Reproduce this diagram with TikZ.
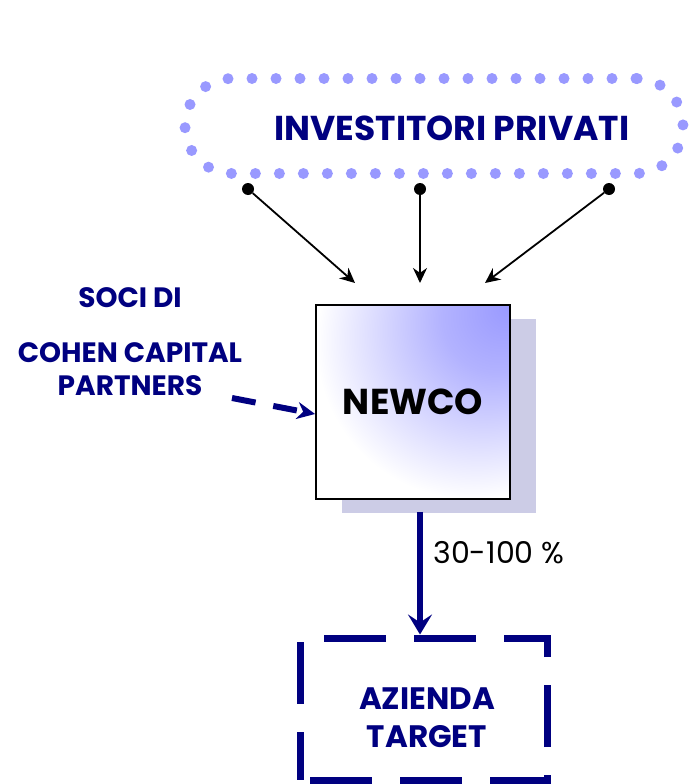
\documentclass[tikz,border=0pt]{standalone}
\usepackage{fontspec}
\setmainfont{Poppins}
\definecolor{lbonavy}{RGB}{0,0,128}
\definecolor{lbodot}{RGB}{153,153,255}
\definecolor{lboshadow}{RGB}{204,204,230}
\usetikzlibrary{arrows.meta,positioning,calc,shadows}
% blue glow coming from the upper right corner of the newco box
\pgfdeclareradialshading{newcoshade}{\pgfpoint{25bp}{25bp}}{%
  color(0bp)=(lbodot); color(14bp)=(lbodot!75!white); color(40bp)=(white); color(100bp)=(white)}

\begin{document}
\begin{tikzpicture}[x=1pt, y=-1pt,
  navytext/.style={text=lbonavy, align=center, inner sep=0pt},
  feeddot/.style={circle, fill=black, inner sep=0pt, minimum size=12pt},
  feedarrow/.style={-{Stealth[length=15pt,width=14pt]}, line width=1.8pt, black}]
  \useasboundingbox (0,0) rectangle (691,784);

  %--- Private investors ---
  \node[draw=lbodot, line width=11pt, line cap=round, dash pattern=on 0pt off 24pt,
        rounded corners=47pt, minimum width=498pt, minimum height=95pt] (investors) at (434,126) {};
  \node[navytext, font=\fontsize{34.5}{40}\selectfont\bfseries] (investorslabel) at (452,128) {INVESTITORI PRIVATI};

  \node[feeddot] (d1) at (248,189) {};
  \node[feeddot] (d2) at (420,189) {};
  \node[feeddot] (d3) at (609,189) {};

  %--- Newco ---
  \node[draw=black, line width=1.8pt, shading=newcoshade, minimum width=194pt, minimum height=194pt,
        drop shadow={shadow xshift=26pt, shadow yshift=-14pt, fill=lboshadow, opacity=1},
        font=\fontsize{36}{42}\selectfont\bfseries] (newco) at (413,402) {NEWCO};

  \coordinate (in1) at (355,283);
  \coordinate (in2) at (420,283);
  \coordinate (in3) at (485,283);

  % Arrows investors -> newco
  \draw[feedarrow] (d1) -- (in1);
  \draw[feedarrow] (d2) -- (in2);
  \draw[feedarrow] (d3) -- (in3);

  %--- Cohen Capital partners ---
  \node[navytext, font=\fontsize{28}{33}\selectfont\bfseries] (soci) at (130,298) {SOCI DI};
  \node[navytext, font=\fontsize{28}{33}\selectfont\bfseries] (cohen) at (130,369.5) {COHEN CAPITAL\\PARTNERS};
  \coordinate (cohenout) at (232,398);
  \draw[lbonavy, line width=6pt, dash pattern=on 24pt off 18pt, -{Stealth[length=18pt,width=17pt]}]
    (cohenout) -- ([yshift=-12pt]newco.west);

  %--- Target company ---
  \node[draw=lbonavy, line width=7pt, dash pattern=on 62pt off 28pt, dash phase=80pt,
        minimum width=247pt, minimum height=142pt] (target) at (423.5,709) {};
  \node[navytext, font=\fontsize{31}{38}\selectfont\bfseries] (targetlabel) at (427,718) {AZIENDA\\TARGET};

  % Stake newco -> target
  \draw[lbonavy, line width=6pt, -{Stealth[length=20pt,width=24pt,inset=8pt]}]
    ([xshift=7pt,yshift=-12pt]newco.south) -- ([xshift=-3.5pt]target.north);
  \node[inner sep=0pt, font=\fontsize{30}{36}\selectfont] (stake) at (499,553) {30-100 \%};
\end{tikzpicture}
\end{document}
